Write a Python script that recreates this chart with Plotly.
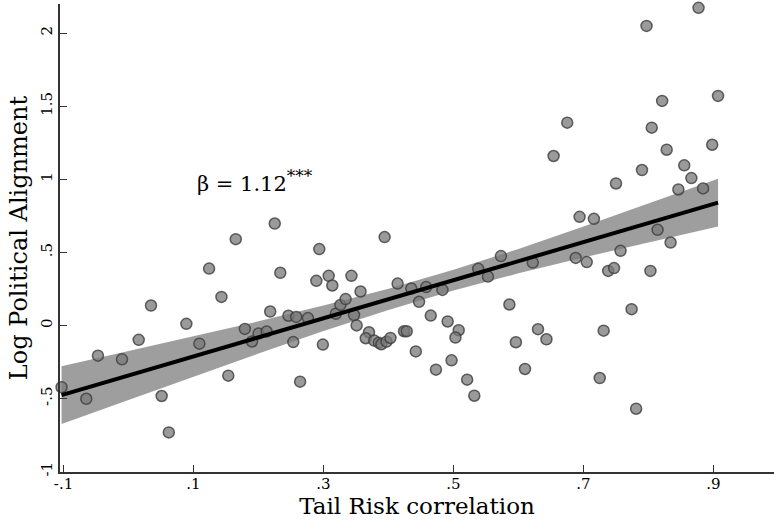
import plotly.graph_objects as go

# Scatter data (Tail Risk correlation vs Log Political Alignment)
x_vals = [0.877, 0.797, 0.821, 0.907, 0.675, 0.805, 0.654, 0.828, 0.898, 0.790,
          0.855, 0.866, 0.750, 0.846, 0.884, 0.694, 0.716, 0.814, 0.834, 0.757,
          0.688, 0.622, 0.705, 0.738, 0.747, 0.803, 0.586, 0.774, 0.630, 0.731,
          0.596, 0.643, 0.610, 0.725, 0.781, 0.2335, 0.289, 0.308, 0.3135, 0.343,
          0.357, 0.414, 0.435, 0.458, 0.483, 0.538, 0.553, 0.573, 0.218, 0.246,
          0.258, 0.276, 0.319, 0.326, 0.334, 0.347, 0.351, 0.370, 0.365, 0.378,
          0.385, 0.389, 0.397, 0.403, 0.424, 0.428, 0.447, 0.465, 0.491, 0.508,
          0.503, 0.442, 0.497, 0.473, 0.521, 0.532, 0.2535, 0.299, 0.264, 0.190,
          0.200, 0.2125, 0.124, 0.143, 0.0346, 0.089, 0.0157, 0.109, 0.179, -0.047,
          -0.010, 0.1535, -0.103, -0.065, 0.051, 0.062, 0.225, 0.2935, 0.394, 0.165]
y_vals = [2.173, 2.049, 1.536, 1.570, 1.387, 1.353, 1.159, 1.202, 1.236, 1.063,
          1.095, 1.008, 0.971, 0.930, 0.937, 0.743, 0.729, 0.654, 0.567, 0.510,
          0.462, 0.430, 0.433, 0.373, 0.392, 0.373, 0.143, 0.111, -0.026, -0.036,
          -0.115, -0.095, -0.298, -0.360, -0.570, 0.360, 0.305, 0.339, 0.273, 0.339,
          0.232, 0.286, 0.252, 0.262, 0.243, 0.387, 0.334, 0.474, 0.095, 0.066,
          0.058, 0.050, 0.080, 0.140, 0.180, 0.071, 0.000, -0.047, -0.088, -0.104,
          -0.118, -0.129, -0.111, -0.086, -0.040, -0.040, 0.161, 0.067, 0.027, -0.033,
          -0.083, -0.178, -0.239, -0.303, -0.371, -0.481, -0.114, -0.131, -0.385, -0.110,
          -0.056, -0.042, 0.389, 0.195, 0.136, 0.011, -0.099, -0.125, -0.024, -0.207,
          -0.232, -0.344, -0.423, -0.502, -0.483, -0.732, 0.697, 0.522, 0.604, 0.590]

# Fitted line and 95% CI band
fit_x = [-0.103, 0.0, 0.1, 0.2, 0.3, 0.4, 0.5, 0.6, 0.7, 0.8, 0.907]
fit_y = [-0.477, -0.343, -0.213, -0.082, 0.048, 0.179, 0.309, 0.440, 0.570, 0.701, 0.840]
ci_lo = [-0.675, -0.510, -0.350, -0.193, -0.039, 0.106, 0.238, 0.356, 0.465, 0.569, 0.677]
ci_hi = [-0.280, -0.176, -0.075, 0.028, 0.136, 0.251, 0.380, 0.523, 0.676, 0.832, 1.003]

x_ticks = [-0.1, 0.1, 0.3, 0.5, 0.7, 0.9]
x_ticktext = ["-.1", ".1", ".3", ".5", ".7", ".9"]
y_ticks = [-1, -0.5, 0, 0.5, 1, 1.5, 2]
y_ticktext = ["-1", "-.5", "0", ".5", "1", "1.5", "2"]

FONT = "DejaVu Serif"

fig = go.Figure()
fig.add_trace(go.Scatter(x=fit_x + fit_x[::-1], y=ci_hi + ci_lo[::-1], fill="toself",
                         fillcolor="rgb(158,158,158)", line=dict(width=0),
                         mode="lines", hoverinfo="skip", showlegend=False))
fig.add_trace(go.Scatter(x=x_vals, y=y_vals, mode="markers", cliponaxis=False,
                         marker=dict(size=11, color="rgba(120,120,120,0.75)",
                                     line=dict(width=1.5, color="rgba(60,60,60,0.8)")),
                         showlegend=False))
fig.add_trace(go.Scatter(x=fit_x, y=fit_y, mode="lines",
                         line=dict(color="black", width=4), showlegend=False))

fig.add_annotation(x=0.102, y=0.99, xref="x", yref="y", xanchor="left", yanchor="middle",
                   text="β = 1.12<sup><span style='font-size:17px'>***</span></sup>",
                   showarrow=False,
                   font=dict(family=FONT, size=21, color="black"))

fig.update_layout(
    width=774, height=520,
    margin=dict(l=60, r=0, t=4, b=48),
    paper_bgcolor="white", plot_bgcolor="white",
    font=dict(family=FONT, color="black"),
    xaxis=dict(range=[-0.1054, 0.9931], tickvals=x_ticks, ticktext=x_ticktext,
               ticks="inside", ticklen=7, tickcolor="#333", tickwidth=1.2,
               showline=True, linecolor="#333", linewidth=1.5,
               showgrid=False, zeroline=False, ticklabelstandoff=-3,
               tickfont=dict(family=FONT, size=15),
               title=dict(text="Tail Risk correlation", font=dict(family=FONT, size=23),
                          standoff=2)),
    yaxis=dict(range=[-1.003, 2.199], tickvals=y_ticks, ticktext=y_ticktext,
               ticks="inside", ticklen=7, tickcolor="#333", tickwidth=1.2,
               showline=True, linecolor="#333", linewidth=1.5,
               showgrid=False, zeroline=False, tickangle=-90,
               tickfont=dict(family=FONT, size=15),
               title=dict(text="Log Political Alignment", font=dict(family=FONT, size=24),
                          standoff=4)),
)

fig.write_html("out.html")
